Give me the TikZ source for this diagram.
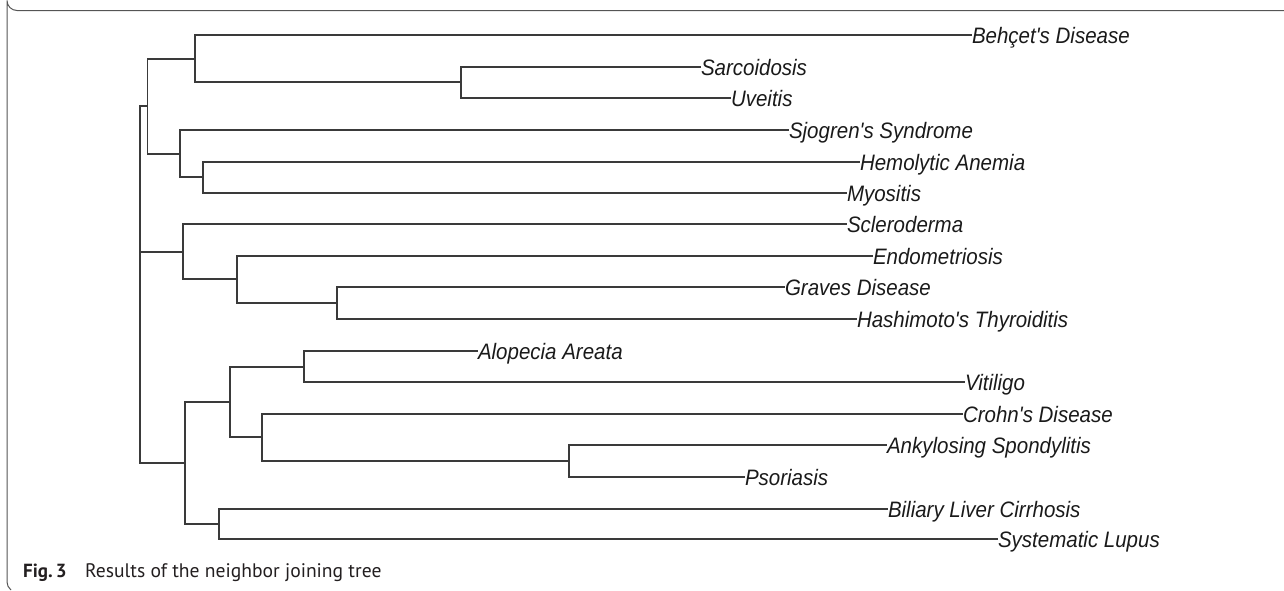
\documentclass[tikz,border=0pt]{standalone}
\usepackage{fontspec}
\newfontfamily\labfont{Liberation Sans}
\newfontfamily\capfont{PT Sans}
\definecolor{treeline}{HTML}{3A3A3A}
\definecolor{labtext}{HTML}{1A1A1A}
\definecolor{framecol}{HTML}{555555}
\definecolor{captext}{HTML}{231F20}
\newcommand{\lbl}[1]{\scalebox{1}[1.09]{#1}}
\begin{document}
\begin{tikzpicture}[x=1pt,y=-1pt,
  leaf/.style={anchor=west,inner sep=0pt,outer sep=0pt,text height=16pt,text depth=0pt,
    font=\labfont\itshape\fontsize{20.5}{24}\selectfont,text=labtext},
  branch/.style={draw=treeline,line width=1.3pt},
  capstyle/.style={anchor=base west,inner sep=0pt,text=captext,font=\capfont\fontsize{19.6}{22}\selectfont}]
\useasboundingbox (0,0) rectangle (1284,590);
% frame
\draw[framecol,line width=1pt] (1284,10.5) -- (17,10.5) arc[start angle=90,end angle=180,radius=10] -- (7,582) to[out=-90,in=135] (11,590);
% internal nodes
\coordinate (R) at (140,252);
\coordinate (A) at (147.5,106);
\coordinate (C) at (195,59);
\coordinate (SU) at (461,82);
\coordinate (D) at (180,154);
\coordinate (E) at (203,177);
\coordinate (F) at (183,252);
\coordinate (G) at (237,279);
\coordinate (H) at (337,303);
\coordinate (I) at (185,463);
\coordinate (J) at (230,402);
\coordinate (K) at (304,367);
\coordinate (L) at (262,437);
\coordinate (M) at (569,461);
\coordinate (N) at (219,524);
% leaves
\node[leaf] (behcet) at (972,35) {\lbl{Behçet's Disease}};
\node[leaf] (sarc) at (701,67) {\lbl{Sarcoidosis}};
\node[leaf] (uve) at (731,98) {\lbl{Uveitis}};
\node[leaf] (sjo) at (789,130) {\lbl{Sjogren's Syndrome}};
\node[leaf] (hemo) at (860,162) {\lbl{Hemolytic Anemia}};
\node[leaf] (myo) at (847,193) {\lbl{Myositis}};
\node[leaf] (scl) at (847,224) {\lbl{Scleroderma}};
\node[leaf] (endo) at (873,256) {\lbl{Endometriosis}};
\node[leaf] (grav) at (785,287) {\lbl{Graves Disease}};
\node[leaf] (hash) at (857,319) {\lbl{Hashimoto's Thyroiditis}};
\node[leaf] (alo) at (478,351) {\lbl{Alopecia Areata}};
\node[leaf] (viti) at (965,382) {\lbl{Vitiligo}};
\node[leaf] (crohn) at (963,414) {\lbl{Crohn's Disease}};
\node[leaf] (anky) at (887,445) {\lbl{Ankylosing Spondylitis}};
\node[leaf] (psor) at (745,477) {\lbl{Psoriasis}};
\node[leaf] (bili) at (888,509) {\lbl{Biliary Liver Cirrhosis}};
\node[leaf] (lupus) at (998,539) {\lbl{Systematic Lupus}};
% branches
\draw[branch] (R) |- (A);
\draw[branch] (R) |- (F);
\draw[branch] (R) |- (I);
\draw[branch] (A) |- (C);
\draw[branch] (A) |- (D);
\draw[branch] (C) |- (behcet.west);
\draw[branch] (C) |- (SU);
\draw[branch] (SU) |- (sarc.west);
\draw[branch] (SU) |- (uve.west);
\draw[branch] (D) |- (sjo.west);
\draw[branch] (D) |- (E);
\draw[branch] (E) |- (hemo.west);
\draw[branch] (E) |- (myo.west);
\draw[branch] (F) |- (scl.west);
\draw[branch] (F) |- (G);
\draw[branch] (G) |- (endo.west);
\draw[branch] (G) |- (H);
\draw[branch] (H) |- (grav.west);
\draw[branch] (H) |- (hash.west);
\draw[branch] (I) |- (J);
\draw[branch] (I) |- (N);
\draw[branch] (J) |- (K);
\draw[branch] (J) |- (L);
\draw[branch] (K) |- (alo.west);
\draw[branch] (K) |- (viti.west);
\draw[branch] (L) |- (crohn.west);
\draw[branch] (L) |- (M);
\draw[branch] (M) |- (anky.west);
\draw[branch] (M) |- (psor.west);
\draw[branch] (N) |- (bili.west);
\draw[branch] (N) |- (lupus.west);
% caption
\node[capstyle,font=\capfont\bfseries\fontsize{19}{22}\selectfont] (fig) at (23,577) {Fig.\,3};
\node[capstyle] (cap) at (85,577) {Results of the neighbor joining tree};
\end{tikzpicture}
\end{document}
